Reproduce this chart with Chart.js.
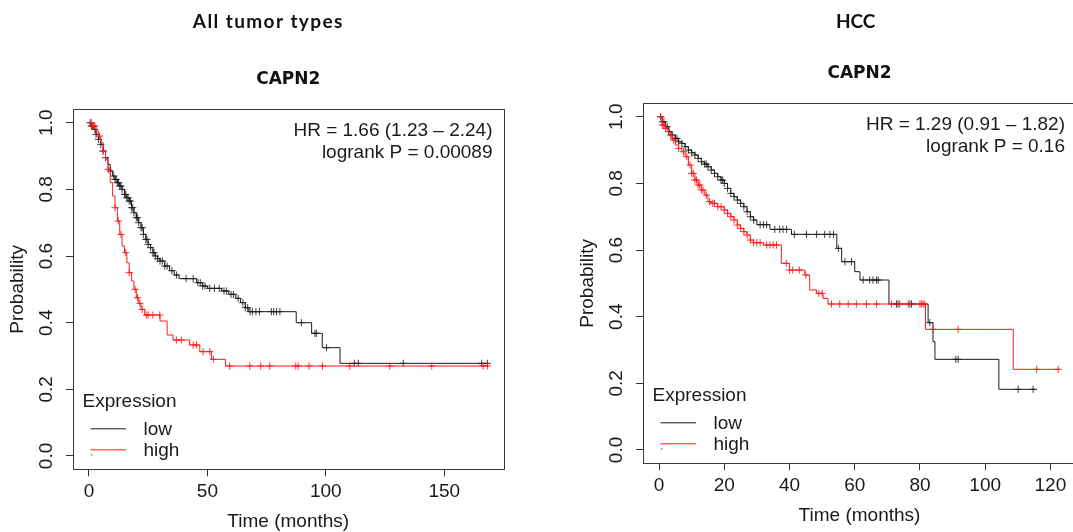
<!DOCTYPE html>
<html>
<head>
<meta charset="utf-8">
<script src="https://cdn.jsdelivr.net/npm/chart.js@4.4.1/dist/chart.umd.min.js"></script>
<style>
  html, body { margin: 0; padding: 0; background: #fff; width: 1073px; height: 532px; overflow: hidden; position: relative; }
  canvas { position: absolute; }
  #panelAll { left: 0; top: 0; }
  #panelHcc { left: 570px; top: -6px; }
</style>
</head>
<body>
<canvas id="panelAll" width="536" height="532"></canvas>
<canvas id="panelHcc" width="536" height="532"></canvas>
<script>
// ---- Kaplan-Meier data: all tumor types, CAPN2 ----
const allLowTimes = [0, 1, 2, 3, 4, 5, 6, 7, 8, 9, 10, 11, 12, 13, 14, 15, 16, 17, 18, 19, 20, 21, 22, 23, 24, 25, 26, 27, 28, 29, 30, 32, 34, 36, 38, 45.5, 48, 50, 56, 59, 62, 64, 66, 67.5, 87.5, 94, 98.5, 106, 168.3];
const allLowSurv  = [1, 0.99, 0.98, 0.965, 0.95, 0.935, 0.915, 0.895, 0.875, 0.855, 0.84, 0.83, 0.82, 0.81, 0.80, 0.785, 0.775, 0.765, 0.745, 0.73, 0.715, 0.70, 0.685, 0.665, 0.65, 0.635, 0.625, 0.61, 0.60, 0.592, 0.585, 0.57, 0.556, 0.543, 0.532, 0.52, 0.51, 0.503, 0.495, 0.485, 0.473, 0.46, 0.445, 0.433, 0.40, 0.368, 0.325, 0.278, 0.278];
const allLowCensored = [0.5, 1, 1.5, 2.5, 3, 4, 5, 6, 7, 9, 10.5, 11, 11.5, 12, 12.5, 13, 13.5, 14, 15, 15.5, 16, 16.5, 17, 17.5, 18, 18.5, 19, 20, 20.5, 21, 22, 22.5, 23, 24, 24.5, 25, 26, 27, 27.5, 28, 29, 30, 31, 32, 33, 35, 37, 41, 44, 46, 47, 48, 49, 51, 53, 55, 57, 58, 60, 61, 63, 65, 66, 67, 68, 69, 70.5, 72, 77, 78, 79.2, 80.6, 89.7, 95.4, 96, 100.3, 112, 113.7, 132.7, 165.8, 168.2];

const allHighTimes = [0, 1.5, 3, 4, 5, 6, 7, 8, 9, 10, 11, 12, 13, 14, 15, 16, 17, 18, 19, 20, 21, 22, 23.5, 30, 33, 35.5, 42.5, 46.8, 51.7, 57.6, 168.3];
const allHighSurv  = [1, 0.99, 0.975, 0.96, 0.94, 0.915, 0.89, 0.86, 0.82, 0.78, 0.745, 0.705, 0.665, 0.63, 0.61, 0.58, 0.55, 0.525, 0.50, 0.475, 0.458, 0.44, 0.423, 0.405, 0.363, 0.348, 0.333, 0.313, 0.29, 0.27, 0.27];
const allHighCensored = [1, 1.5, 2, 2.5, 4.5, 6, 8.2, 11, 12.4, 13.5, 15.5, 17, 19.5, 20.5, 21.5, 22.5, 24.2, 25, 27, 29.9, 36.9, 39, 44, 45.4, 48.2, 51, 52.5, 59.4, 67.9, 72.5, 76.3, 87.3, 88.3, 92.9, 98.6, 110.1, 127, 144.7, 166.4, 168.3];

// ---- Kaplan-Meier data: HCC, CAPN2 ----
const hccLowTimes = [0, 1, 2, 3, 4, 5, 6, 7, 8, 9, 10, 11, 12, 13, 14, 15, 16, 17, 18, 19, 20, 21, 22, 23, 24, 25, 26, 27, 28, 29, 30, 34, 40.6, 54.5, 56, 60, 61.6, 70.5, 82.5, 84, 84.6, 104.2, 115.8];
const hccLowSurv  = [1, 0.985, 0.97, 0.955, 0.945, 0.935, 0.925, 0.92, 0.91, 0.90, 0.892, 0.885, 0.875, 0.865, 0.858, 0.85, 0.84, 0.83, 0.82, 0.81, 0.80, 0.785, 0.77, 0.76, 0.75, 0.74, 0.73, 0.715, 0.70, 0.69, 0.676, 0.662, 0.647, 0.605, 0.565, 0.535, 0.51, 0.438, 0.382, 0.325, 0.272, 0.182, 0.182];
const hccLowCensored = [0.5, 1, 1.5, 2.5, 3, 4, 5, 5.5, 6, 7, 8, 9, 10, 11, 12, 13, 14, 14.5, 15, 16, 17, 18, 19, 19.5, 20, 21, 22, 23, 24, 25, 26, 27, 28, 29, 31, 32, 33, 35.5, 37, 38, 39.1, 41.5, 45.2, 48.3, 50.8, 52.4, 53.5, 55, 57, 59, 62.6, 64.6, 65.6, 66.7, 67.2, 72.8, 73.3, 76.9, 77.4, 83, 91, 91.7, 110.1, 114.7];

const hccHighTimes = [0, 1, 2, 3, 4, 5, 6, 7, 8, 9, 10, 11, 12, 13, 14, 15, 16, 18, 20, 21, 22, 23, 24, 25, 26, 27, 28, 29, 32, 37.5, 40, 44.7, 46.2, 48.3, 50.3, 51.8, 81.7, 108.6, 122.9];
const hccHighSurv  = [1, 0.975, 0.965, 0.945, 0.93, 0.915, 0.905, 0.895, 0.88, 0.855, 0.83, 0.81, 0.795, 0.78, 0.765, 0.745, 0.74, 0.73, 0.72, 0.71, 0.70, 0.69, 0.675, 0.665, 0.655, 0.645, 0.63, 0.622, 0.615, 0.56, 0.54, 0.525, 0.48, 0.47, 0.455, 0.438, 0.362, 0.242, 0.242];
const hccHighCensored = [0.5, 1, 1.5, 2, 3.5, 4.5, 6, 7.5, 8.5, 9.5, 10, 10.5, 11, 11.5, 12, 12.5, 13, 13.5, 14.5, 15.5, 16.5, 17, 18, 19, 20, 21, 22, 23, 24, 25, 26, 27, 28, 29, 30, 31, 33, 34, 35, 36, 39, 40, 41, 43, 45, 49, 50, 52.9, 55.4, 58, 60.5, 63.6, 66.7, 71.3, 73.8, 76.4, 80, 80.5, 81, 81.5, 84, 91.7, 115.8, 122.4];

// ---- axis ticks and labels ----
const allTimeTicks = [0, 50, 100, 150];
const hccTimeTicks = [0, 20, 40, 60, 80, 100, 120];
const probabilityTicks = [0, 0.2, 0.4, 0.6, 0.8, 1.0];
const groupLabels = ['low', 'high'];
const groupColors = ['#1c1c1c', '#ff1a1a'];

// step-function value at time t
function survivalAt(times, surv, t) {
  let s = surv[0];
  for (let i = 0; i < times.length; i++) {
    if (times[i] <= t) s = surv[i]; else break;
  }
  return s;
}
const toCurve = (times, surv) => times.map((t, i) => ({ x: t, y: surv[i] }));
const toMarks = (times, surv, cens) => cens.map(t => ({ x: t, y: survivalAt(times, surv, t) }));

const AXIS_FONT = 'Liberation Sans, Arial, sans-serif';

// frame, headings, statistics and the "Expression" key
const panelDecor = {
  id: 'panelDecor',
  afterDraw(chart, args, o) {
    const { ctx, chartArea: a } = chart;
    ctx.save();
    ctx.strokeStyle = '#3a3a3a';
    ctx.lineWidth = 1;
    ctx.strokeRect(Math.round(a.left) + 0.5, Math.round(a.top) + 0.5,
                   Math.round(a.right - a.left), Math.round(a.bottom - a.top));

    ctx.fillStyle = '#111';
    ctx.textBaseline = 'alphabetic';
    ctx.textAlign = 'center';
    ctx.font = 'bold 19px Lato, sans-serif';
    ctx.letterSpacing = o.headingSpacing;
    ctx.fillText(o.heading, o.headingX, o.headingY);
    ctx.letterSpacing = '0px';

    ctx.font = 'bold 17px "DejaVu Sans", sans-serif';
    ctx.fillText(o.gene, (a.left + a.right) / 2, a.top - 25);

    ctx.fillStyle = '#1a1a1a';
    ctx.textAlign = 'right';
    ctx.font = '19px ' + AXIS_FONT;
    ctx.fillText(o.hr, a.right - 11, a.top + 26.3);
    ctx.fillText(o.logrank, a.right - 11, a.top + 48.5);

    ctx.textAlign = 'left';
    ctx.fillText('Expression', a.left + 9.5, a.bottom - 62.5);
    const rows = [a.bottom - 41, a.bottom - 20];
    const base = [a.bottom - 34.5, a.bottom - 13.8];
    chart.data.datasets.filter(d => d.isCurve).forEach((d, i) => {
      ctx.strokeStyle = d.borderColor;
      ctx.lineWidth = 1;
      ctx.beginPath();
      ctx.moveTo(a.left + 17.5, rows[i] + 0.5);
      ctx.lineTo(a.left + 53, rows[i] + 0.5);
      ctx.stroke();
      ctx.fillStyle = '#1a1a1a';
      ctx.fillText(d.label, a.left + 70.5, base[i]);
    });
    ctx.fillStyle = '#666';
    ctx.fillRect(a.left + 18, a.bottom - 15, 1.3, 1.3);
    ctx.restore();
  }
};

function makePanel(id, p) {
  const datasets = [
    { label: groupLabels[0], isCurve: true, data: toCurve(p.lowT, p.lowS), type: 'line', stepped: true,
      borderColor: groupColors[0], borderWidth: 1, pointRadius: 0, fill: false, order: 2 },
    { label: groupLabels[1], isCurve: true, data: toCurve(p.highT, p.highS), type: 'line', stepped: true,
      borderColor: groupColors[1], borderWidth: 1, pointRadius: 0, fill: false, order: 0 },
    { label: groupLabels[0] + ' censored', data: toMarks(p.lowT, p.lowS, p.lowC), type: 'scatter',
      pointStyle: 'cross', pointRadius: 3.6, borderColor: 'rgba(28,28,28,0.85)', borderWidth: 1, order: 3 },
    { label: groupLabels[1] + ' censored', data: toMarks(p.highT, p.highS, p.highC), type: 'scatter',
      pointStyle: 'cross', pointRadius: 3.6, borderColor: 'rgba(255,26,26,0.9)', borderWidth: 1, order: 1 }
  ];
  const gridOpts = { drawOnChartArea: false, drawTicks: true, tickLength: 7, color: '#333', tickColor: '#333', lineWidth: 1 };
  return new Chart(document.getElementById(id), {
    type: 'line',
    data: { datasets },
    options: {
      responsive: false,
      animation: false,
      devicePixelRatio: 1,
      layout: { padding: { top: 109.4, left: 0, right: p.padRight, bottom: 0 } },
      plugins: {
        legend: { display: false },
        tooltip: { enabled: false },
        panelDecor: p.decor
      },
      scales: {
        x: {
          type: 'linear', min: p.xMin, max: p.xMax,
          afterBuildTicks: s => { s.ticks = p.xTicks.map(v => ({ value: v })); },
          afterFit: s => { s.height = 62.7; },
          grid: gridOpts,
          border: { display: false },
          ticks: { autoSkip: false, maxRotation: 0, padding: 3.8, color: '#1a1a1a',
                   font: { family: AXIS_FONT, size: 19 }, callback: v => String(v) },
          title: { display: true, text: 'Time (months)', color: '#1a1a1a',
                   font: { family: AXIS_FONT, size: 19, lineHeight: 1 }, padding: { top: 0, bottom: 0.5 } }
        },
        y: {
          type: 'linear', min: -0.04, max: 1.04,
          afterBuildTicks: s => { s.ticks = probabilityTicks.map(v => ({ value: v })); },
          afterFit: s => { s.width = 73; },
          grid: gridOpts,
          border: { display: false },
          ticks: { autoSkip: false, minRotation: 90, maxRotation: 90, crossAlign: 'center', padding: 6.3,
                   color: '#1a1a1a', font: { family: AXIS_FONT, size: 19 }, callback: v => v.toFixed(1) },
          title: { display: true, text: 'Probability', color: '#1a1a1a',
                   font: { family: AXIS_FONT, size: 19, lineHeight: 1 }, padding: { top: 8.7, bottom: 0 } }
        }
      }
    },
    plugins: [panelDecor]
  });
}

makePanel('panelAll', {
  lowT: allLowTimes, lowS: allLowSurv, lowC: allLowCensored,
  highT: allHighTimes, highS: allHighSurv, highC: allHighCensored,
  xTicks: allTimeTicks, xMin: -6.73, xMax: 175.0, padRight: 32.5,
  decor: { heading: 'All tumor types', headingX: 268.3, headingY: 27.5, headingSpacing: '1.4px', gene: 'CAPN2',
           hr: 'HR = 1.66 (1.23 \u2013 2.24)', logrank: 'logrank P = 0.00089' }
});

makePanel('panelHcc', {
  lowT: hccLowTimes, lowS: hccLowSurv, lowC: hccLowCensored,
  highT: hccHighTimes, highS: hccHighSurv, highC: hccHighCensored,
  xTicks: hccTimeTicks, xMin: -4.92, xMax: 127.85, padRight: 30,
  decor: { heading: 'HCC', headingX: 285.7, headingY: 33.5, headingSpacing: '0px', gene: 'CAPN2',
           hr: 'HR = 1.29 (0.91 \u2013 1.82)', logrank: 'logrank P = 0.16' }
});
</script>
</body>
</html>
